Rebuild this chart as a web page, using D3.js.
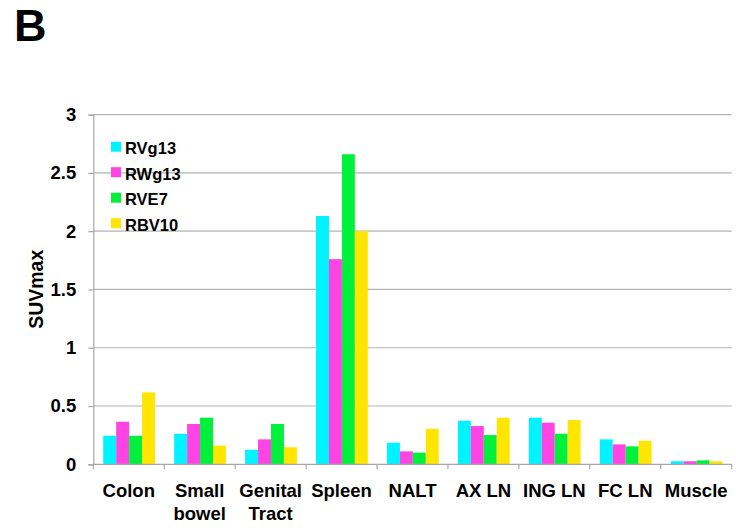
<!DOCTYPE html>
<html>
<head>
<meta charset="utf-8">
<script src="https://cdn.jsdelivr.net/npm/d3@7/dist/d3.min.js"></script>
<style>
  html, body { margin: 0; padding: 0; background: #fff; }
  svg { display: block; font-family: "Liberation Sans", Arial, sans-serif; font-weight: bold; }
</style>
</head>
<body>
<svg id="chart" width="736" height="528"></svg>
<script>
// Tissues (x categories); "\n" splits a label over two lines
const categories = ["Colon", "Small\nbowel", "Genital\nTract", "Spleen", "NALT", "AX LN", "ING LN", "FC LN", "Muscle"];
const seriesNames = ["RVg13", "RWg13", "RVE7", "RBV10"];
const seriesColors = ["#00f4ff", "#ff44e4", "#00f03c", "#ffe600"];

// SUVmax per tissue for each virus
const rvg13 = [0.245, 0.262, 0.125, 2.13, 0.185, 0.374, 0.40, 0.214, 0.026];
const rwg13 = [0.365, 0.346, 0.214, 1.76, 0.111, 0.328, 0.357, 0.171, 0.026];
const rve7  = [0.245, 0.40, 0.346, 2.66, 0.10, 0.251, 0.262, 0.154, 0.034];
const rbv10 = [0.617, 0.16, 0.146, 2.00, 0.305, 0.40, 0.38, 0.202, 0.026];
const yTicks = [0, 0.5, 1, 1.5, 2, 2.5, 3];

const seriesValues = [rvg13, rwg13, rve7, rbv10];

const svg = d3.select("#chart");
const margin = { left: 93.3, right: 4.3, top: 114.6, bottom: 63.7 };
const W = 736, H = 528;
const plotW = W - margin.left - margin.right;
const plotH = H - margin.top - margin.bottom;

const x0 = d3.scaleBand().domain(categories).range([0, plotW]).paddingInner(0).paddingOuter(0);
const x1 = d3.scaleBand().domain(seriesNames)
  .range([x0.bandwidth() * 0.14, x0.bandwidth() * 0.87]).padding(0);
const y = d3.scaleLinear().domain([0, 3]).range([plotH, 0]);

const g = svg.append("g").attr("transform", `translate(${margin.left},${margin.top})`);

// horizontal gridlines
g.append("g").selectAll("line").data(yTicks.filter(d => d > 0)).join("line")
  .attr("x1", 0).attr("x2", plotW)
  .attr("y1", d => y(d)).attr("y2", d => y(d))
  .attr("stroke", "#b3b3b3").attr("stroke-width", 1.2);

// bars
const groups = g.append("g").selectAll("g").data(categories).join("g")
  .attr("transform", d => `translate(${x0(d)},0)`);
groups.selectAll("rect")
  .data((c, i) => seriesNames.map((s, k) => ({ s, k, v: seriesValues[k][i] })))
  .join("rect")
  .attr("x", d => x1(d.s))
  .attr("width", x1.bandwidth())
  .attr("y", d => y(d.v))
  .attr("height", d => y(0) - y(d.v))
  .attr("fill", d => seriesColors[d.k]);

// y axis
const yAxis = g.append("g").call(d3.axisLeft(y).tickValues(yTicks)
  .tickFormat(d3.format("")).tickSize(5).tickPadding(12));
yAxis.select(".domain").attr("stroke", "#a8a8a8").attr("stroke-width", 1.2);
yAxis.selectAll(".tick line").attr("stroke", "#a8a8a8").attr("stroke-width", 1.2);
yAxis.selectAll(".tick text").attr("font-size", 18.5).attr("font-weight", "bold")
  .attr("fill", "#000").attr("font-family", "Liberation Sans, Arial, sans-serif");

// x axis: ticks at category boundaries
const xAxisG = g.append("g").attr("transform", `translate(0,${plotH})`);
xAxisG.append("line").attr("x1", 0).attr("x2", plotW)
  .attr("stroke", "#a8a8a8").attr("stroke-width", 1.2);
const bounds = categories.map(c => x0(c)).concat([plotW]);
xAxisG.selectAll("line.tk").data(bounds).join("line").attr("class", "tk")
  .attr("x1", d => d).attr("x2", d => d).attr("y1", 0).attr("y2", 5)
  .attr("stroke", "#a8a8a8").attr("stroke-width", 1.2);

// category labels
const lbl = xAxisG.selectAll("text").data(categories).join("text")
  .attr("x", d => x0(d) + x0.bandwidth() / 2)
  .attr("y", 32.4)
  .attr("text-anchor", "middle")
  .attr("font-size", 18.5).attr("fill", "#000");
lbl.each(function (d) {
  const parts = d.split("\n");
  const t = d3.select(this);
  parts.forEach((p, i) => {
    t.append("tspan").attr("x", x0(d) + x0.bandwidth() / 2)
      .attr("dy", i === 0 ? 0 : 23.3).text(p);
  });
});

// y axis title
svg.append("text")
  .attr("transform", `translate(42.5,289.3) rotate(-90)`)
  .attr("text-anchor", "middle")
  .attr("font-size", 19.5).attr("fill", "#000")
  .text("SUVmax");

// legend
const legend = svg.append("g").attr("transform", "translate(111,146.5)");
const rows = legend.selectAll("g").data(seriesNames).join("g")
  .attr("transform", (d, i) => `translate(0,${i * 25.5})`);
rows.append("rect").attr("x", 0).attr("y", -4.8).attr("width", 10).attr("height", 10)
  .attr("fill", (d, i) => seriesColors[i]);
rows.append("text").attr("x", 14).attr("y", 7.8).attr("font-size", 16.5)
  .attr("fill", "#000").text(d => d);

// panel letter
svg.append("text").attr("x", 14).attr("y", 41).attr("font-size", 45)
  .attr("fill", "#000").text("B");
</script>
</body>
</html>
